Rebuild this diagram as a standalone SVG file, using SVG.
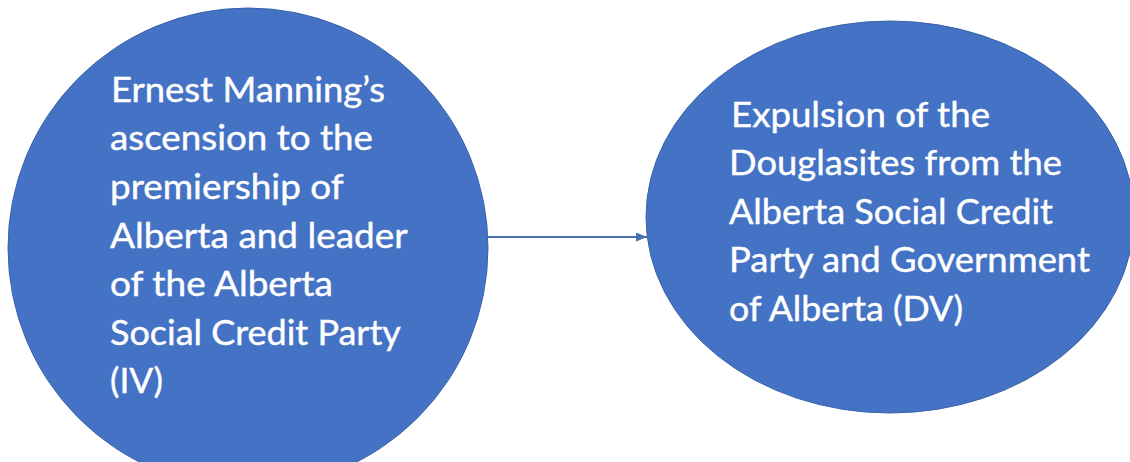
<svg xmlns="http://www.w3.org/2000/svg" width="1130" height="462" viewBox="0 0 1130 462">
<style>
.node{fill:#4472C4;stroke:#3A62A8;stroke-width:1}
.lbl{font-family:Lato,"Open Sans","Liberation Sans",sans-serif;font-size:34px;fill:#FFFFFF;stroke:#FFFFFF;stroke-width:0.4}
.conn{stroke:#4A70B0;stroke-width:1.8;fill:none}
</style>
<defs>
<marker id="ah" markerWidth="11" markerHeight="9" refX="11" refY="4.5" orient="auto" markerUnits="userSpaceOnUse">
<path d="M0,0 L11,4.5 L0,9 Z" fill="#4A70B0"/>
</marker>
</defs>
<rect width="1130" height="462" fill="#FFFFFF"/>
<g id="connectors">
<line class="conn" x1="488" y1="237" x2="647" y2="237" marker-end="url(#ah)"/>
</g>
<g id="node-iv">
<circle class="node" cx="248" cy="248" r="240"/>
<text class="lbl">
<tspan x="111" y="101.7" textLength="274" lengthAdjust="spacingAndGlyphs">Ernest Manning’s</tspan>
<tspan x="110" y="150.3" textLength="263" lengthAdjust="spacingAndGlyphs">ascension to the</tspan>
<tspan x="110" y="198.9" textLength="233" lengthAdjust="spacingAndGlyphs">premiership of</tspan>
<tspan x="110" y="247.5" textLength="297" lengthAdjust="spacingAndGlyphs">Alberta and leader</tspan>
<tspan x="110" y="296.1" textLength="223" lengthAdjust="spacingAndGlyphs">of the Alberta</tspan>
<tspan x="110" y="344.7" textLength="290" lengthAdjust="spacingAndGlyphs">Social Credit Party</tspan>
<tspan x="110" y="393.3" textLength="53" lengthAdjust="spacingAndGlyphs">(IV)</tspan>
</text>
</g>
<g id="node-dv">
<ellipse class="node" cx="890" cy="217" rx="244" ry="196"/>
<text class="lbl">
<tspan x="731" y="126.5" textLength="259" lengthAdjust="spacingAndGlyphs">Expulsion of the</tspan>
<tspan x="729" y="175.1" textLength="333" lengthAdjust="spacingAndGlyphs">Douglasites from the</tspan>
<tspan x="729" y="223.7" textLength="324" lengthAdjust="spacingAndGlyphs">Alberta Social Credit</tspan>
<tspan x="729" y="272.3" textLength="361" lengthAdjust="spacingAndGlyphs">Party and Government</tspan>
<tspan x="729" y="320.9" textLength="234" lengthAdjust="spacingAndGlyphs">of Alberta (DV)</tspan>
</text>
</g>
</svg>
